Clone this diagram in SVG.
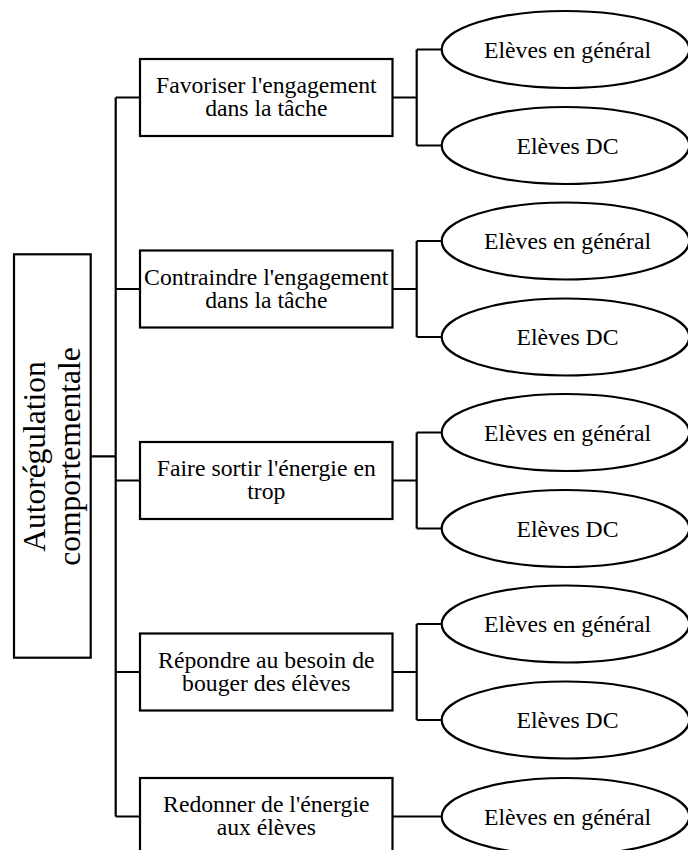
<svg xmlns="http://www.w3.org/2000/svg" width="688" height="850" viewBox="0 0 688 850">
<style>
.box{fill:#fff;stroke:#000;stroke-width:2.2}
.ell{fill:#fff;stroke:#000;stroke-width:2.2}
.t{font-family:"Liberation Serif","Times New Roman",serif;font-size:23.7px;fill:#000;text-anchor:middle}
.r{font-family:"Liberation Serif","Times New Roman",serif;font-size:31.5px;fill:#000;text-anchor:middle}
.c{fill:none;stroke:#000;stroke-width:2.2}
</style>
<rect width="688" height="850" fill="#fff"/>
<g id="connectors" class="c">
<path d="M90.7 456.3H115.7M115.7 97.5V816.5M115.7 97.5H140M115.7 289H140M115.7 480.5H140M115.7 672H140M115.7 816.5H140"/>
<path d="M392.5 97.5H416.7M416.7 49.5V145.5M416.7 49.5H441.7M416.7 145.5H441.7"/>
<path d="M392.5 289H416.7M416.7 241V337M416.7 241H441.7M416.7 337H441.7"/>
<path d="M392.5 480.5H416.7M416.7 432.5V528.5M416.7 432.5H441.7M416.7 528.5H441.7"/>
<path d="M392.5 672H416.7M416.7 624V720M416.7 624H441.7M416.7 720H441.7"/>
<path d="M392.5 816.5H441.7"/>
</g>
<g id="root">
<rect class="box" x="14" y="254.3" width="76.7" height="403.4"/>
<text class="r" font-family="Liberation Serif, serif" transform="rotate(-90)"><tspan x="-456.5" y="45">Autorégulation</tspan><tspan x="-456.5" y="80">comportementale</tspan></text>
</g>
<g id="n1">
<rect class="box" x="140" y="59" width="252.5" height="77"/>
<text class="t" font-family="Liberation Serif, serif"><tspan x="266.3" y="93.3">Favoriser l'engagement</tspan><tspan x="266.3" y="116">dans la tâche</tspan></text>
</g>
<g id="n2">
<rect class="box" x="140" y="250.5" width="252.5" height="77"/>
<text class="t" font-family="Liberation Serif, serif"><tspan x="266.3" y="284.8">Contraindre l'engagement</tspan><tspan x="266.3" y="307.5">dans la tâche</tspan></text>
</g>
<g id="n3">
<rect class="box" x="140" y="442" width="252.5" height="77"/>
<text class="t" font-family="Liberation Serif, serif"><tspan x="266.3" y="476.3">Faire sortir l'énergie en</tspan><tspan x="266.3" y="499">trop</tspan></text>
</g>
<g id="n4">
<rect class="box" x="140" y="633.5" width="252.5" height="77"/>
<text class="t" font-family="Liberation Serif, serif"><tspan x="266.3" y="667.8">Répondre au besoin de</tspan><tspan x="266.3" y="690.5">bouger des élèves</tspan></text>
</g>
<g id="n5">
<rect class="box" x="140" y="778" width="252.5" height="77"/>
<text class="t" font-family="Liberation Serif, serif"><tspan x="266.3" y="812.3">Redonner de l'énergie</tspan><tspan x="266.3" y="835">aux élèves</tspan></text>
</g>
<g id="e1a"><ellipse class="ell" cx="565.5" cy="49.5" rx="123.8" ry="38.5"/><text class="t" x="567.5" y="57.5">Elèves en général</text></g>
<g id="e1b"><ellipse class="ell" cx="565.5" cy="145.5" rx="123.8" ry="38.5"/><text class="t" x="567.5" y="153.5">Elèves DC</text></g>
<g id="e2a"><ellipse class="ell" cx="565.5" cy="241" rx="123.8" ry="38.5"/><text class="t" x="567.5" y="249">Elèves en général</text></g>
<g id="e2b"><ellipse class="ell" cx="565.5" cy="337" rx="123.8" ry="38.5"/><text class="t" x="567.5" y="345">Elèves DC</text></g>
<g id="e3a"><ellipse class="ell" cx="565.5" cy="432.5" rx="123.8" ry="38.5"/><text class="t" x="567.5" y="440.5">Elèves en général</text></g>
<g id="e3b"><ellipse class="ell" cx="565.5" cy="528.5" rx="123.8" ry="38.5"/><text class="t" x="567.5" y="536.5">Elèves DC</text></g>
<g id="e4a"><ellipse class="ell" cx="565.5" cy="624" rx="123.8" ry="38.5"/><text class="t" x="567.5" y="632">Elèves en général</text></g>
<g id="e4b"><ellipse class="ell" cx="565.5" cy="720" rx="123.8" ry="38.5"/><text class="t" x="567.5" y="728">Elèves DC</text></g>
<g id="e5"><ellipse class="ell" cx="565.5" cy="816.5" rx="123.8" ry="38.5"/><text class="t" x="567.5" y="824.5">Elèves en général</text></g>
</svg>
